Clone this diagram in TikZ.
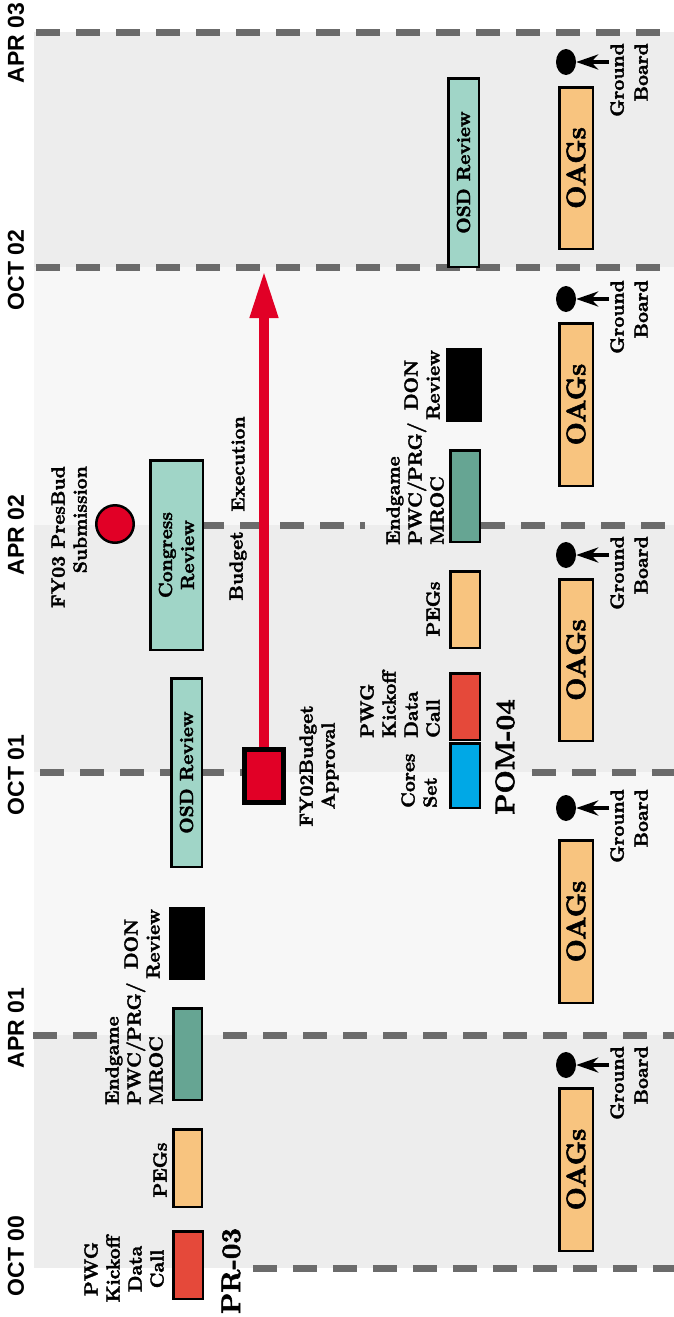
\documentclass[tikz,border=0pt]{standalone}
\usepackage{fontspec}
\setmainfont{lmroman10-regular.otf}[BoldFont=lmroman10-bold.otf,BoldFeatures={FakeBold=2}]
\setsansfont{Liberation Sans}
\usetikzlibrary{arrows.meta,shapes.geometric}
\definecolor{banddark}{HTML}{EDEDED}
\definecolor{bandlight}{HTML}{F7F7F7}
\definecolor{dashgray}{HTML}{6B6B6B}
\definecolor{kickred}{HTML}{E5493A}
\definecolor{peach}{HTML}{F8C47F}
\definecolor{tealdark}{HTML}{66A593}
\definecolor{teallight}{HTML}{A0D5C7}
\definecolor{coreblue}{HTML}{00A8E6}
\definecolor{brightred}{HTML}{E10026}
\newcommand{\tlbox}[6]{\node[tbox,fill=#6,anchor=north west,minimum width={#4-#2-2.5},minimum height={#5-#3-2.5}] (#1) at (#2,#3) {};}
\newcommand{\gbmark}[2]{%
  \node[gbdot] (gb#1) at (566,#2) {};
  \coordinate (gbs#1) at (609,#2);
  \draw[gbarrow] (gbs#1) -- (gb#1);
  \node[gblab,anchor=south east] (gbt#1) at (648,#2-19) {Ground\\Board};}
\begin{document}
\begin{tikzpicture}[x=1pt,y=-1pt,
  datelab/.style={rotate=90,font=\sffamily\bfseries\fontsize{23}{26}\selectfont,inner sep=0},
  lab/.style={rotate=90,font=\bfseries\fontsize{19}{22}\selectfont,inner sep=0},
  gblab/.style={rotate=90,font=\bfseries\fontsize{19}{24}\selectfont,inner sep=0,align=right},
  boxlab/.style={rotate=90,font=\bfseries\fontsize{19}{22}\selectfont,align=center,inner sep=0},
  biglab/.style={rotate=90,font=\bfseries\fontsize{27}{30}\selectfont,inner sep=0},
  tbox/.style={draw=black,line width=2.5pt,inner sep=0},
  dline/.style={draw=dashgray,line width=7pt,dash pattern=on 24pt off 16pt},
  gbdot/.style={ellipse,fill=black,minimum width=20pt,minimum height=26pt,inner sep=0},
  gbarrow/.style={line width=4.5pt,-{Stealth[length=22pt,width=15pt]}},
  execarrow/.style={line width=10pt,brightred,-{Triangle[length=48pt,width=26pt]}}
]
\useasboundingbox (0,0) rectangle (674,1317);
\fill[white] (0,0) rectangle (674,1317);
% bands
\fill[banddark] (34,32) rectangle (674,267);
\fill[bandlight] (34,267) rectangle (674,525);
\fill[banddark] (34,525) rectangle (674,772);
\fill[bandlight] (34,772) rectangle (674,1035);
\fill[banddark] (34,1035) rectangle (674,1268);
% dashed date lines
\draw[dline] (36,32) -- (674,32);
\draw[dline] (36,267) -- (674,267);
\draw[dline] (200,525) -- (365,525);
\draw[dline] (481,525) -- (674,525);
\draw[dline] (40,772) -- (245,772);
\draw[dline] (532,772) -- (674,772);
\draw[dline] (33,1035) -- (105,1035);
\draw[dline] (223,1035) -- (674,1035);
\draw[dline] (253,1268) -- (674,1268);
% date labels
\node[datelab] (d1) at (16,43) {APR 03};
\node[datelab] (d2) at (16,270) {OCT 02};
\node[datelab] (d3) at (16,535) {APR 02};
\node[datelab] (d4) at (16,775) {OCT 01};
\node[datelab] (d5) at (16,1028) {APR 01};
\node[datelab] (d6) at (16,1256) {OCT 00};
% PR-03 row
\tlbox{prkick}{172}{1230}{204}{1300}{kickred}
\tlbox{prpeg}{172}{1128}{203}{1208}{peach}
\tlbox{prend}{172}{1007}{203}{1101}{tealdark}
\tlbox{prdon}{169}{907}{205}{980}{black}
\tlbox{prosd}{170}{677}{203}{868}{teallight}
\tlbox{congress}{149}{459}{204}{651}{teallight}
\node[boxlab] (prosdt) at (prosd.center) {OSD Review};
\node[boxlab] (congresst) at (congress.center) {Congress\\Review};
\node[lab,align=center,anchor=south] (prkickt) at (164,1269) {PWG\\Kickoff\\Data\\Call};
\node[lab,anchor=south] (prpegt) at (167,1170) {PEGs};
\node[lab,align=left,anchor=south west] (prendt) at (163,1105) {Endgame\\PWC/PRG/\\MROC};
\node[lab,align=center,anchor=south] (prdont) at (160,944) {DON\\Review};
\node[biglab] (pr03) at (231,1271) {PR-03};
% FY03 PresBud
\node[circle,draw=black,line width=2.5pt,fill=brightred,minimum size=37.5pt,inner sep=0] (presbud) at (115,524) {};
\node[lab,align=right,anchor=south east] (presbudt) at (87,466) {FY03 PresBud\\Submission};
% Budget execution
\coordinate (exectip) at (264,270);
\node[draw=black,line width=5pt,fill=brightred,minimum width=39pt,minimum height=53pt,inner sep=0] (fy02) at (264,776) {};
\draw[execarrow] (fy02.north) -- (fy02.north |- exectip);
\node[lab,align=center] (fy02t) at (319,766) {FY02Budget\\Approval};
\node[lab] (budgett) at (238,566) {Budget};
\node[lab] (exect) at (238,464) {Execution};
% POM-04 row
\tlbox{pmcore}{449}{742}{481}{809}{coreblue}
\tlbox{pmkick}{449}{672}{481}{741}{kickred}
\tlbox{pmpeg}{449}{570}{481}{649}{peach}
\tlbox{pmend}{449}{449}{481}{543}{tealdark}
\tlbox{pmdon}{446}{348}{482}{422}{black}
\tlbox{pmosd}{447}{77}{480}{268}{teallight}
\node[boxlab] (pmosdt) at (pmosd.center) {OSD Review};
\node[lab,align=left,anchor=south west] (pmcoret) at (437,808) {Cores\\Set};
\node[lab,align=left,anchor=south west] (pmkickt) at (440,738) {PWG\\Kickoff\\Data\\Call};
\node[lab,anchor=south] (pmpegt) at (440,609) {PEGs};
\node[lab,align=left,anchor=south west] (pmendt) at (444,545) {Endgame\\PWC/PRG/\\MROC};
\node[lab,align=center,anchor=south] (pmdont) at (440,385) {DON\\Review};
\node[biglab] (pom04) at (505,757) {POM-04};
% OAGs and ground boards
\tlbox{oag1}{558}{86}{594}{250}{peach}
\tlbox{oag2}{558}{322}{594}{487}{peach}
\tlbox{oag3}{558}{578}{594}{742}{peach}
\tlbox{oag4}{558}{839}{594}{1004}{peach}
\tlbox{oag5}{558}{1087}{594}{1252}{peach}
\node[biglab] (oagt1) at (oag1.center) {OAGs};
\node[biglab] (oagt2) at (oag2.center) {OAGs};
\node[biglab] (oagt3) at (oag3.center) {OAGs};
\node[biglab] (oagt4) at (oag4.center) {OAGs};
\node[biglab] (oagt5) at (oag5.center) {OAGs};
\gbmark{1}{62}
\gbmark{2}{299}
\gbmark{3}{555}
\gbmark{4}{808}
\gbmark{5}{1065}
\end{tikzpicture}
\end{document}
